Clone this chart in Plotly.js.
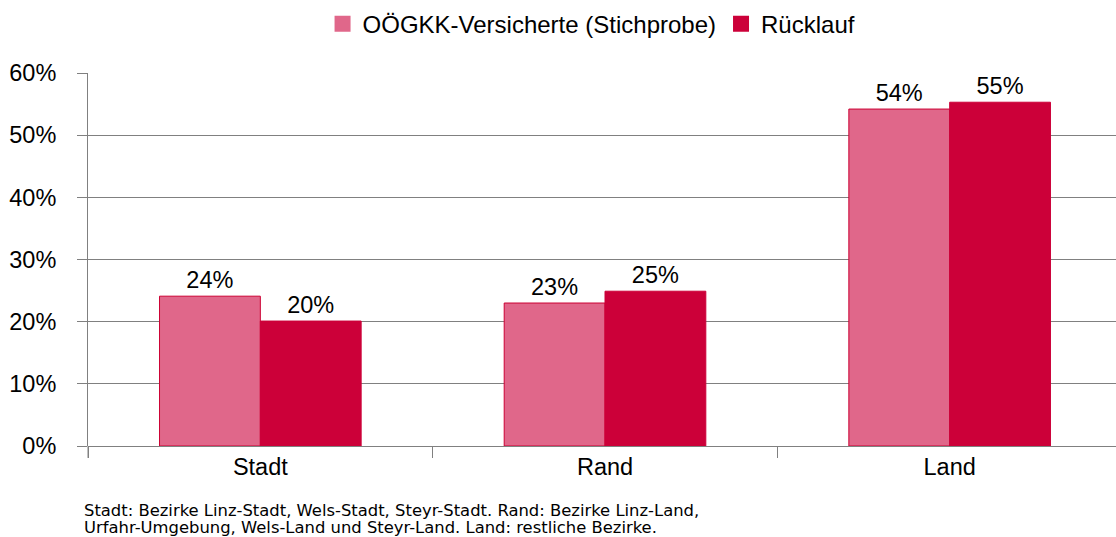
<!DOCTYPE html>
<html><head><meta charset="utf-8">
<script src="https://cdn.plot.ly/plotly-3.0.1.min.js"></script>
<style>html,body{margin:0;padding:0;background:#fff;overflow:hidden;width:1116px;height:537px;}#chart{width:1122px;height:537px;}</style>
</head><body><div id="chart"></div>
<script>
const categories = ["Stadt", "Rand", "Land"];
const seriesNames = ["OÖGKK-Versicherte (Stichprobe)", "Rücklauf"];
const stichprobe = [24.1, 23.0, 54.2];
const ruecklauf = [20.1, 24.9, 55.3];
const tickVals = [0, 10, 20, 30, 40, 50, 60];
const tickText = ["0%", "10%", "20%", "30%", "40%", "50%", "60%"];
const footnoteLines = ["Stadt: Bezirke Linz-Stadt, Wels-Stadt, Steyr-Stadt. Rand: Bezirke Linz-Land,",
                       "Urfahr-Umgebung, Wels-Land und Steyr-Land. Land: restliche Bezirke."];
const colors = ["#e0678a", "#cc0039"];
const outlines = ["#cc0033", "#cc0039"];

const font = {family: "Liberation Sans, Arial, sans-serif", size: 23.5, color: "#000"};
const legendFont = {family: "Liberation Sans, Arial, sans-serif", size: 24, color: "#000"};
const data = [];
[stichprobe, ruecklauf].forEach((vals, i) => {
  data.push({
    type: "bar", name: seriesNames[i], x: categories, y: vals, showlegend: false,
    text: vals.map(v => Math.round(v) + "%"), textposition: "outside",
    textfont: font, cliponaxis: false, hoverinfo: "none",
    marker: {color: colors[i], line: {color: outlines[i], width: 1}}
  });
});
[0, 1].forEach(i => {
  data.push({
    type: "scatter", mode: "markers", name: seriesNames[i], x: [categories[0]], y: [-100], showlegend: true,
    marker: {symbol: "square", size: 18, color: colors[i], line: {width: 0}}, hoverinfo: "none"
  });
});
const layout = {
  width: 1122, height: 537,
  margin: {l: 88, r: 0, t: 73, b: 91},
  paper_bgcolor: "#fff", plot_bgcolor: "#fff",
  font: font,
  barmode: "group", bargap: 0.415, bargroupgap: 0,
  showlegend: true,
  legend: {orientation: "h", x: 0.487, xanchor: "center", y: 0.955, yref: "container", yanchor: "middle",
           font: legendFont, traceorder: "normal", itemwidth: 30, tracegroupgap: 0},
  xaxis: {type: "category", tickson: "boundaries", ticks: "outside", ticklen: 11, tickcolor: "#808080",
          showgrid: false, showline: false, zeroline: false, tickfont: font, fixedrange: true,
          ticklabelstandoff: 4},
  yaxis: {range: [0, 60], tickvals: tickVals, ticktext: tickText, ticks: "outside", ticklen: 10,
          tickcolor: "#808080", showgrid: true, gridcolor: "#808080", gridwidth: 1,
          showline: true, linecolor: "#808080", linewidth: 1, zeroline: true, zerolinecolor: "#808080",
          tickfont: font, fixedrange: true, ticklabelstandoff: 16},
  shapes: [{type: "line", xref: "paper", yref: "paper", x0: 0, x1: 0, y0: 0, y1: -0.032,
            line: {color: "#808080", width: 1}}],
  annotations: footnoteLines.map((t, k) => ({
    text: t, xref: "paper", yref: "paper", x: -0.006, y: -0.172 - k * 0.0475,
    xanchor: "left", yanchor: "middle", align: "left", showarrow: false,
    font: {family: "DejaVu Sans, sans-serif", size: 16.4, color: "#000"}
  }))
};
Plotly.newPlot("chart", data, layout, {displayModeBar: false, staticPlot: true});
</script></body></html>
